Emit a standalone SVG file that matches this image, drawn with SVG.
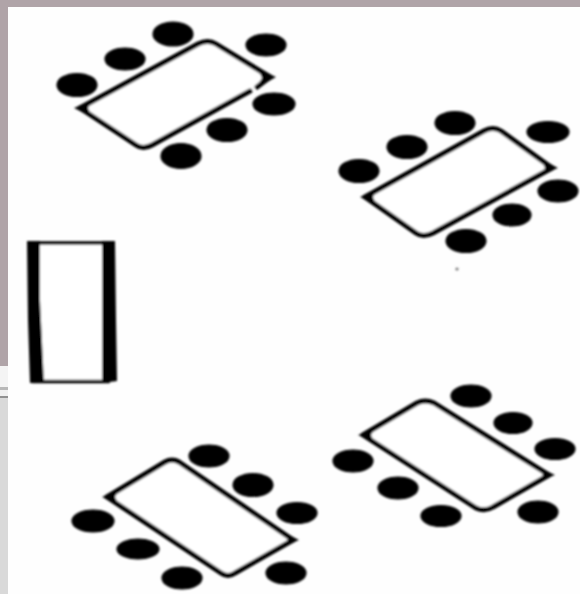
<svg xmlns="http://www.w3.org/2000/svg" width="580" height="594" viewBox="0 0 580 594">
<style>
.table{fill:#fff;stroke:#050505;stroke-width:5;stroke-linejoin:round;stroke-linecap:round}
.wedge{fill:#050505}
.seat{fill:#030303;stroke:#030303;stroke-width:1.200}
.bar{fill:#050505}
</style>
<defs><filter id="soft" x="-5%" y="-5%" width="110%" height="110%"><feGaussianBlur stdDeviation="0.8"/></filter></defs>
<rect width="580" height="594" fill="#fefefe"/>
<rect x="0" y="0" width="580" height="7" fill="#b0a4a8"/>
<rect x="0" y="0" width="8" height="366" fill="#b0a4a8"/>
<rect x="0" y="366" width="8" height="21" fill="#f4f4f4"/>
<rect x="0" y="387" width="8" height="207" fill="#d9d9d9"/>
<rect x="0" y="387" width="8" height="3" fill="#b8b8b8"/>
<rect x="0" y="390" width="8" height="6" fill="#f0f0f0"/>
<rect x="0" y="396" width="8" height="2" fill="#909090"/>
<g filter="url(#soft)">
<g id="head-table">
<rect x="34" y="243" width="74" height="138.500" fill="#fff" stroke="#050505" stroke-width="3.500"/>
<polygon class="bar" points="27,241 40,241 40,300 44,383 30,383 28,320"/>
<polygon class="bar" points="102,241 115,241 116,320 117,381 102,383 102,320"/>
</g>
<g id="table-1">
<path class="table" d="M250 91 L152 145 Q143 150 136 145 L80 108 L198 44 Q208 39 216 44 L270 77 L257 87"/>
<polygon class="wedge" points="74,108 92,100 88,108 92,117"/>
<polygon class="wedge" points="276,77 258,69 262,78 255,89"/>
<ellipse class="seat" cx="77" cy="85" rx="20" ry="11.500"/>
<ellipse class="seat" cx="125" cy="59" rx="20" ry="11"/>
<ellipse class="seat" cx="173" cy="34" rx="20" ry="12"/>
<ellipse class="seat" cx="266" cy="45" rx="20" ry="11"/>
<ellipse class="seat" cx="274" cy="104" rx="21" ry="11"/>
<ellipse class="seat" cx="227" cy="130" rx="20" ry="11.500"/>
<ellipse class="seat" cx="181" cy="156" rx="20" ry="12.500"/>
</g>
<g id="table-2">
<path class="table" d="M365 197 L484 131 Q493 126 501 131 L552 168 L433 233 Q423 238 416 233 Z"/>
<polygon class="wedge" points="360,197 377,189 373,197 376,205"/>
<polygon class="wedge" points="558,168 541,159 545,168 541,175"/>
<ellipse class="seat" cx="359" cy="171" rx="20" ry="11.500"/>
<ellipse class="seat" cx="407" cy="147" rx="20" ry="11.500"/>
<ellipse class="seat" cx="455" cy="123" rx="20" ry="11.500"/>
<ellipse class="seat" cx="548" cy="132" rx="21" ry="10.500"/>
<ellipse class="seat" cx="558" cy="191" rx="20" ry="11"/>
<ellipse class="seat" cx="512" cy="215" rx="19" ry="11"/>
<ellipse class="seat" cx="466" cy="241" rx="20" ry="11.500"/>
<circle cx="457" cy="269" r="1.600" fill="#777"/>
</g>
<g id="table-3">
<path class="table" d="M363 435 L417 403 Q425 399 434 403 L549 475 L493 507 Q485 512 476 508 Z"/>
<polygon class="wedge" points="358,435 375,428 371,435 374,442"/>
<polygon class="wedge" points="555,475 538,467 543,475 538,482"/>
<ellipse class="seat" cx="471" cy="396" rx="20" ry="11"/>
<ellipse class="seat" cx="513" cy="423" rx="19" ry="10.500"/>
<ellipse class="seat" cx="555" cy="449" rx="20" ry="10.500"/>
<ellipse class="seat" cx="353" cy="461" rx="20" ry="11"/>
<ellipse class="seat" cx="398" cy="488" rx="20" ry="11"/>
<ellipse class="seat" cx="441" cy="516" rx="20" ry="10.500"/>
<ellipse class="seat" cx="538" cy="512" rx="20" ry="11"/>
</g>
<g id="table-4">
<path class="table" d="M107 497 L165 462 Q172 458 179 462 L293 540 L235 573 Q228 578 221 573 Z"/>
<polygon class="wedge" points="102,497 119,489 115,497 119,505"/>
<polygon class="wedge" points="299,540 283,532 288,540 283,547"/>
<ellipse class="seat" cx="209" cy="456" rx="20" ry="11"/>
<ellipse class="seat" cx="253" cy="485" rx="20" ry="11.500"/>
<ellipse class="seat" cx="297" cy="513" rx="20" ry="10.500"/>
<ellipse class="seat" cx="93" cy="521" rx="21" ry="11"/>
<ellipse class="seat" cx="138" cy="549" rx="21" ry="10"/>
<ellipse class="seat" cx="182" cy="578" rx="20" ry="11"/>
<ellipse class="seat" cx="286" cy="573" rx="20" ry="11"/>
</g>
</g>
</svg>
